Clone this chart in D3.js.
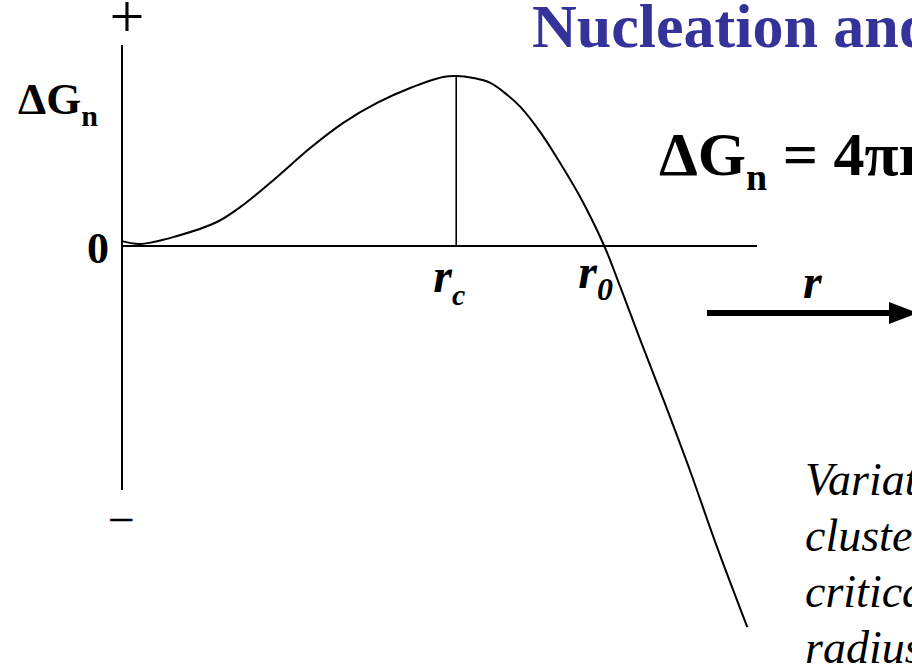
<!DOCTYPE html>
<html>
<head>
<meta charset="utf-8">
<script src="https://cdn.jsdelivr.net/npm/d3@7"></script>
<style>
  body { margin: 0; background: #fff; }
  svg { display: block; }
</style>
</head>
<body>
<div id="chart"></div>
<script>
// radius in units of r_c, free energy in units of the barrier height
const radius = [-0.003, 0.054, 0.165, 0.284, 0.362, 0.464, 0.563, 0.662, 0.763, 0.862, 0.961, 1.0,
  1.051, 1.102, 1.153, 1.192, 1.251, 1.311, 1.371, 1.443, 1.491, 1.551, 1.626, 1.701, 1.775, 1.871]
const deltaG = [0.03, 0.012, 0.059, 0.141, 0.241, 0.406, 0.576, 0.724, 0.841, 0.929, 0.994, 1.0,
  0.988, 0.959, 0.888, 0.818, 0.671, 0.488, 0.288, 0.0, -0.241, -0.553, -0.935, -1.329, -1.741, -2.241]

const rCritical = 1.0
const gCritical = 1.0
const rZero = 1.443

const rDomain = [0, 1.9]
const gDomain = [-1.435, 1.182]

const titleText = 'Nucleation and Growth'
const captionLines = ['Variation of', 'cluster free energy', 'critical nucleus', 'radius']

const width = 912
const height = 672
const serif = "'Liberation Serif', 'Times New Roman', 'DejaVu Serif', serif"

let svg = d3.select('#chart')
  .append('svg')
  .attr('width', width)
  .attr('height', height)

svg.append('rect')
  .attr('width', width)
  .attr('height', height)
  .attr('fill', '#fff')

let x = d3.scaleLinear().domain(rDomain).range([122, 757])
let y = d3.scaleLinear().domain(gDomain).range([490, 45])

function label (px, py, size) {
  return svg.append('text')
    .attr('x', px).attr('y', py)
    .attr('font-family', serif)
    .attr('font-size', size)
}

// axes
svg.append('line')
  .attr('x1', x(0)).attr('x2', x(0))
  .attr('y1', y(gDomain[1])).attr('y2', y(gDomain[0]))
  .attr('stroke', '#000').attr('stroke-width', 2)

svg.append('line')
  .attr('x1', x(0)).attr('x2', x(rDomain[1]))
  .attr('y1', y(0)).attr('y2', y(0))
  .attr('stroke', '#000').attr('stroke-width', 2)

// critical radius marker
svg.append('line')
  .attr('x1', x(rCritical)).attr('x2', x(rCritical))
  .attr('y1', y(gCritical)).attr('y2', y(0))
  .attr('stroke', '#000').attr('stroke-width', 1.6)

// curve
let points = radius.map((r, i) => [r, deltaG[i]])
let line = d3.line()
  .x((d) => x(d[0]))
  .y((d) => y(d[1]))
  .curve(d3.curveCatmullRom.alpha(0.5))

svg.append('path')
  .datum(points)
  .attr('d', line)
  .attr('fill', 'none')
  .attr('stroke', '#000')
  .attr('stroke-width', 2)

// y axis labels
label(x(0) + 5, y(gDomain[1]) - 8, 62).attr('text-anchor', 'middle').text('+')
label(x(0) - 1, y(gDomain[0]) + 46, 48).attr('text-anchor', 'middle').text('\u2212')
label(x(0) - 24, y(0) + 17, 44)
  .attr('text-anchor', 'middle')
  .attr('font-weight', 'bold')
  .text('0')

let yTitle = label(18, 114, 45).attr('font-weight', 'bold')
yTitle.append('tspan').text('\u0394G')
yTitle.append('tspan').attr('dy', 12).attr('font-size', 30).text('n')

// x axis labels
function subLabel (px, py, main, sub, subSize, dy) {
  let t = label(px, py, 48)
    .attr('font-weight', 'bold')
    .attr('font-style', 'italic')
  t.append('tspan').text(main)
  if (sub) t.append('tspan').attr('dy', dy).attr('font-size', subSize).text(sub)
}
subLabel(x(rCritical) - 23, y(0) + 46, 'r', 'c', 30, 13)
subLabel(x(rZero) - 26, y(0) + 42, 'r', '0', 32, 12)
subLabel(803, 298, 'r')

// arrow
svg.append('line')
  .attr('x1', 707).attr('x2', 892)
  .attr('y1', 313).attr('y2', 313)
  .attr('stroke', '#000').attr('stroke-width', 6)
svg.append('path')
  .attr('d', 'M889,302 L918,313 L889,324 Z')
  .attr('fill', '#000')

// title
label(532, 47, 62)
  .attr('font-weight', 'bold')
  .attr('fill', '#333399')
  .text(titleText)

// equation
let eq = label(659, 175, 62).attr('font-weight', 'bold')
eq.append('tspan').text('\u0394G')
eq.append('tspan').attr('dy', 15).attr('font-size', 38).text('n')
eq.append('tspan').attr('dy', -15).text(' = 4\u03c0r\u00b2\u03b3')

// caption
svg.append('g')
  .selectAll('text')
  .data(captionLines)
  .join('text')
  .attr('x', 805)
  .attr('y', (d, i) => 495 + i * 56)
  .attr('font-family', serif)
  .attr('font-size', 46)
  .attr('font-style', 'italic')
  .text((d) => d)
</script>
</body>
</html>
